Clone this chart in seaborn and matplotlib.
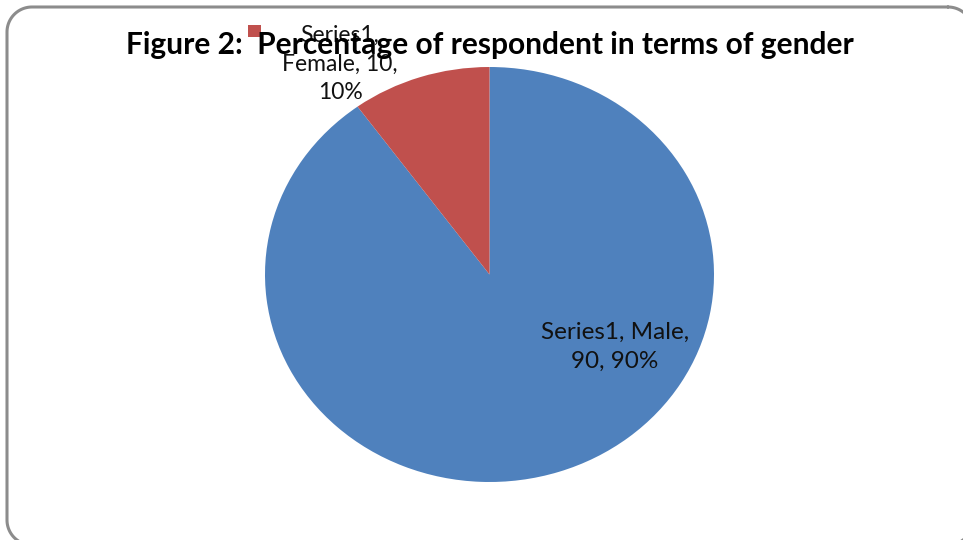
import matplotlib
matplotlib.use("Agg")
import matplotlib.pyplot as plt
import seaborn as sns
import numpy as np
from matplotlib.patches import Rectangle

sns.set_theme(style="white")
plt.rcParams['font.family'] = ['Lato', 'DejaVu Sans']

series = "Series1"
categories = ["Male", "Female"]
values = [90, 10]
colors = ["#4F81BD", "#C0504D"]

W, H = 963, 540
fig = plt.figure(figsize=(W / 100, H / 100), dpi=100)
fig.patch.set_facecolor("white")

# background axes in pixel coordinates for the border and legend key
bg = fig.add_axes([0, 0, 1, 1])
bg.set_xlim(0, W)
bg.set_ylim(H, 0)
bg.axis("off")

x0, y0, x1, y1, r = 7, 7, 973, 545, 25
t = np.linspace(0, np.pi / 2, 30)
bx, by = [], []
for cx, cy, a0 in [(x1 - r, y0 + r, -np.pi / 2), (x1 - r, y1 - r, 0),
                   (x0 + r, y1 - r, np.pi / 2), (x0 + r, y0 + r, np.pi)]:
    ang = a0 + t
    bx.extend(cx + r * np.cos(ang))
    by.extend(cy + r * np.sin(ang))
bx.append(bx[0]); by.append(by[0])
bg.plot(bx, by, color="#8c8c8c", linewidth=2.2, solid_capstyle="round")
bg.add_patch(Rectangle((248, 25), 13, 12, facecolor=colors[1], edgecolor="none"))

# pie axes (slightly elliptical like the reference)
left, right, top, bottom = 265, 714, 67, 482
ax = fig.add_axes([left / W, (H - bottom) / H, (right - left) / W, (bottom - top) / H])
ax.pie(values, colors=colors, startangle=90, counterclock=False,
       wedgeprops=dict(linewidth=0), radius=1, frame=False)
ax.set_xlim(-1, 1)
ax.set_ylim(-1, 1)
ax.set_aspect("auto")
ax.axis("off")

total = sum(values)
pct = [f"{round(v * 100 / total)}%" for v in values]

# data labels
fig.text(615 / W, 1 - 347 / H, f"{series}, {categories[0]},\n{values[0]}, {pct[0]}",
         ha="center", va="center", fontsize=17.5, color="#111111", linespacing=1.45)
fig.text(340 / W, 1 - 64 / H, f"{series},\n{categories[1]}, {values[1]},\n{pct[1]}",
         ha="center", va="center", fontsize=16.5, color="#111111", linespacing=1.45)

# title
fig.text(490 / W, 1 - 45 / H, "Figure 2:  Percentage of respondent in terms of gender",
         ha="center", va="center", fontsize=21.5, fontweight="bold", color="black")

fig.savefig("out.png", dpi=100)
